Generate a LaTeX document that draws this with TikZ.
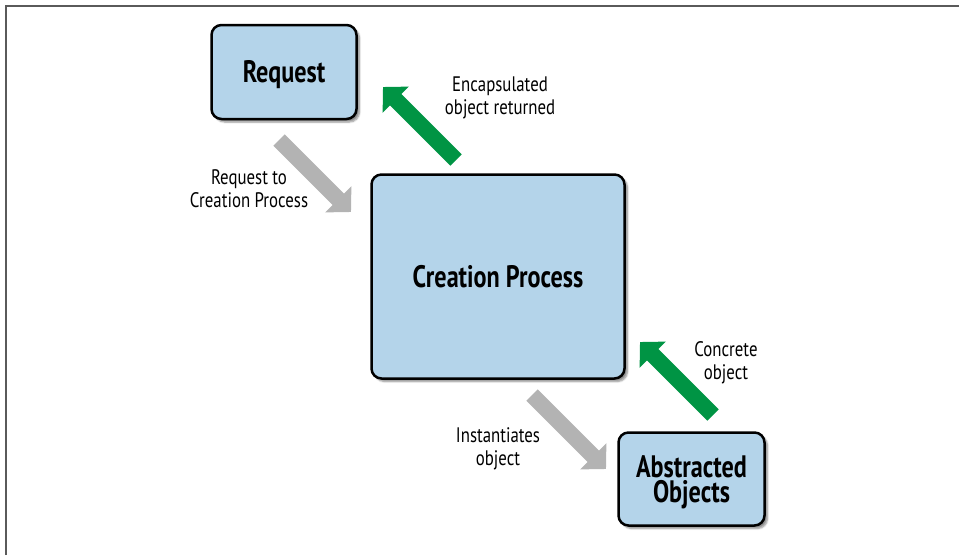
\documentclass[tikz,border=0pt]{standalone}
\usepackage{fontspec}
\newfontfamily\labelfont{PT Sans}[FakeStretch=0.80]
\newfontfamily\boxfont{PT Sans}[FakeStretch=0.78]
\usetikzlibrary{arrows.meta,shadows.blur}
\definecolor{boxblue}{RGB}{180,212,234}
\definecolor{flowgreen}{RGB}{0,148,68}
\definecolor{flowgray}{RGB}{179,179,179}
\definecolor{framegray}{RGB}{90,90,90}
\begin{document}
\begin{tikzpicture}[x=1pt,y=-1pt,
  box/.style={draw=black, line width=2.5pt, fill=boxblue, rounded corners=10pt,
    inner sep=0pt, align=center,
    blur shadow={shadow xshift=3pt, shadow yshift=-3pt, shadow blur steps=6, shadow opacity=45},
    font=\boxfont\bfseries\fontsize{31}{25}\selectfont},
  oneline/.style={text height=21.8pt, text depth=0pt},
  lbl/.style={font=\labelfont\fontsize{21}{23}\selectfont, align=center, text=black, inner sep=0pt},
  flow/.style={line width=16pt, -{Triangle[width=36pt,length=18pt]}},
]
\useasboundingbox (0,0) rectangle (959,555);
% frame
\draw[framegray, line width=1.5pt] (6,555) -- (6,6) -- (959,6);

% boxes
\node[box, oneline, minimum width=145pt, minimum height=94pt] (req) at (284,72) {Request};
\node[box, oneline, minimum width=253pt, minimum height=204pt] (cp) at (498,276.5) {Creation Process};
\node[box, minimum width=146pt, minimum height=93pt] (ao) at (691.5,479) {\rule{0pt}{28pt}Abstracted\\Objects};

% arrow end points
\coordinate (g1s) at (279,140);
\coordinate (g1e) at (351,212);
\coordinate (e1s) at (456,160);
\coordinate (e1e) at (383,87);
\coordinate (e2s) at (713,415);
\coordinate (e2e) at (640,342);
\coordinate (g2s) at (532,395);
\coordinate (g2e) at (606,469);

\draw[flow, flowgray] (g1s) -- (g1e);
\draw[flow, flowgreen] (e1s) -- (e1e);
\draw[flow, flowgreen] (e2s) -- (e2e);
\draw[flow, flowgray] (g2s) -- (g2e);

% labels
\node[lbl] (l1) at (249,189) {Request to\\Creation Process};
\node[lbl] (l2) at (500,98) {Encapsulated\\object returned};
\node[lbl] (l3) at (726,363) {Concrete\\object};
\node[lbl] (l4) at (498,449) {Instantiates\\object};
\end{tikzpicture}
\end{document}
